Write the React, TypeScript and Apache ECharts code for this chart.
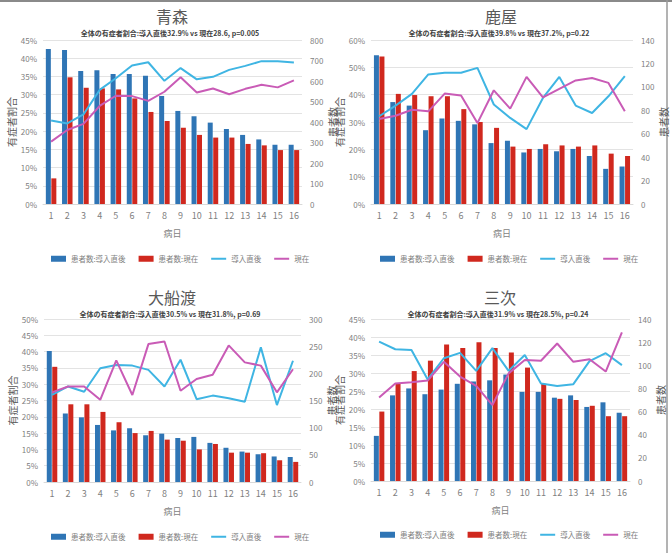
import React, { useEffect, useRef } from "react";
import * as echarts from "echarts";

// Hospital day (病日) categories shared by every panel
const days = ["1", "2", "3", "4", "5", "6", "7", "8", "9", "10", "11", "12", "13", "14", "15", "16"];

// 青森
const aomoriCountInitial = [756, 751, 649, 652, 634, 634, 626, 527, 454, 428, 397, 366, 337, 315, 289, 289];
const aomoriCountNow = [125, 618, 567, 564, 559, 515, 449, 405, 372, 337, 324, 324, 293, 286, 263, 263];
const aomoriRateInitial = [22.9, 22.1, 24.6, 31.3, 34.5, 38.0, 38.9, 33.8, 37.3, 34.2, 34.9, 36.8, 37.9, 39.2, 39.2, 38.8];
const aomoriRateNow = [17.1, 20.3, 22.0, 26.9, 29.7, 29.6, 28.3, 30.8, 34.8, 30.6, 31.7, 30.1, 31.6, 32.7, 32.0, 33.9];

// 鹿屋
const kanoyaCountInitial = [127, 87, 84, 63, 73, 71, 68, 52, 54, 44, 47, 45, 47, 41, 30, 32];
const kanoyaCountNow = [126, 94, 93, 92, 92, 81, 70, 65, 49, 47, 51, 50, 49, 50, 43, 41];
const kanoyaRateInitial = [32.1, 36.0, 40.3, 47.4, 48.0, 48.0, 49.8, 36.4, 31.5, 27.4, 38.8, 46.5, 36.0, 33.3, 39.4, 46.8];
const kanoyaRateNow = [31.1, 32.3, 34.5, 33.9, 40.4, 39.7, 29.6, 41.6, 34.9, 46.5, 39.0, 42.1, 45.2, 46.1, 44.3, 33.9];

// 大船渡
const ofunatoCountInitial = [241, 126, 119, 105, 95, 99, 86, 89, 81, 83, 72, 63, 56, 51, 47, 46];
const ofunatoCountNow = [212, 143, 143, 129, 110, 90, 94, 78, 76, 60, 70, 54, 54, 53, 40, 37];
const ofunatoRateInitial = [26.7, 29.3, 27.7, 34.9, 35.9, 35.7, 34.4, 29.3, 37.5, 25.4, 26.5, 25.7, 24.6, 41.3, 23.6, 37.2];
const ofunatoRateNow = [27.5, 29.3, 29.3, 25.2, 37.3, 26.7, 42.3, 43.1, 28.0, 31.6, 32.9, 41.9, 36.7, 35.7, 27.5, 34.6];

// 三次
const miyoshiCountInitial = [39, 74, 80, 75, 79, 84, 86, 87, 92, 77, 77, 72, 74, 64, 68, 59];
const miyoshiCountNow = [60, 84, 95, 104, 118, 115, 120, 115, 111, 98, 84, 71, 70, 65, 56, 56];
const miyoshiRateInitial = [38.7, 36.6, 36.4, 28.2, 34.1, 35.6, 30.6, 36.9, 30.6, 35.0, 27.1, 26.4, 26.9, 33.3, 35.5, 32.2];
const miyoshiRateNow = [23.2, 27.1, 27.4, 27.9, 33.1, 29.0, 26.4, 21.1, 29.9, 33.6, 33.4, 38.2, 33.1, 33.8, 30.4, 41.3];

// Panel titles and summary lines
const panelTitles = ["青森", "鹿屋", "大船渡", "三次"];
const panelSubtitles = [
  "全体の有症者割合:導入直後32.9% vs 現在28.6, p=0.005",
  "全体の有症者割合:導入直後39.8% vs 現在37.2%, p=0.22",
  "全体の有症者割合:導入直後30.5% vs 現在31.8%, p=0.69",
  "全体の有症者割合:導入直後31.9% vs 現在28.5%, p=0.24",
];

// Axis ranges: [max, interval]
const rateAxes = [[45, 5], [60, 10], [50, 5], [45, 5]];
const countAxes = [[800, 100], [140, 20], [300, 50], [140, 20]];

const seriesNames = ["患者数:導入直後", "患者数:現在", "導入直後", "現在"];

const panelData = [
  [aomoriCountInitial, aomoriCountNow, aomoriRateInitial, aomoriRateNow],
  [kanoyaCountInitial, kanoyaCountNow, kanoyaRateInitial, kanoyaRateNow],
  [ofunatoCountInitial, ofunatoCountNow, ofunatoRateInitial, ofunatoRateNow],
  [miyoshiCountInitial, miyoshiCountNow, miyoshiRateInitial, miyoshiRateNow],
];

// Layout of each panel (pixels)
const layout = [
  { left: 43, top: 40, width: 259, height: 164, cx: 172, titleY: 16, subY: 33, legendX: 51, legendY: 255 },
  { left: 371, top: 40, width: 262, height: 164, cx: 501, titleY: 16, subY: 33, legendX: 380, legendY: 255 },
  { left: 44, top: 319, width: 257, height: 163, cx: 172, titleY: 297, subY: 314, legendX: 51, legendY: 533 },
  { left: 371, top: 319, width: 259, height: 162, cx: 500, titleY: 297, subY: 314, legendX: 380, legendY: 531 },
];

const FONT = '"Noto Sans CJK JP", "Noto Sans", sans-serif';
const BLUE = "#2f75b5";
const RED = "#d0281e";
const CYAN = "#3fb5e3";
const MAGENTA = "#c95bb6";
const LABEL = "#7f7f7f";
const DARK = "#595959";

// Thin horizontal stroke inside a full-height box, used as the legend mark of line series
const LINE_ICON = "path://M0,0 M0,2 L15,2 L15,4 L0,4 Z M15,6";

export default function App() {
  const ref = useRef<HTMLDivElement>(null);

  useEffect(() => {
    if (!ref.current) return;
    const chart = echarts.init(ref.current, undefined, { renderer: "svg" });

    const grid: any[] = [];
    const xAxis: any[] = [];
    const yAxis: any[] = [];
    const series: any[] = [];
    const legend: any[] = [];
    const graphic: any[] = [];

    layout.forEach((g, i) => {
      grid.push({ left: g.left, top: g.top, width: g.width, height: g.height, containLabel: false });
      xAxis.push({
        type: "category",
        gridIndex: i,
        data: days,
        name: "病日",
        nameLocation: "middle",
        nameGap: 25,
        nameTextStyle: { color: LABEL, fontSize: 9, fontFamily: FONT },
        axisLine: { lineStyle: { color: "#d9d9d9" } },
        axisTick: { show: false },
        axisLabel: { color: LABEL, fontSize: 9, fontFamily: FONT, margin: 7, interval: 0 },
      });
      const [rMax, rInt] = rateAxes[i];
      const [cMax, cInt] = countAxes[i];
      yAxis.push({
        type: "value",
        gridIndex: i,
        min: 0,
        max: rMax,
        interval: rInt,
        position: "left",
        name: "有症者割合",
        nameLocation: "middle",
        nameRotate: 90,
        nameGap: 24,
        nameTextStyle: { color: DARK, fontSize: 10, fontFamily: FONT },
        axisLine: { show: false },
        axisTick: { show: false },
        axisLabel: { color: LABEL, fontSize: 8, fontFamily: FONT, formatter: "{value}%", margin: 6 },
        splitLine: { lineStyle: { color: "#e3e3e3", width: 1 } },
      });
      yAxis.push({
        type: "value",
        gridIndex: i,
        min: 0,
        max: cMax,
        interval: cInt,
        position: "right",
        name: "患者数",
        nameLocation: "middle",
        nameRotate: 90,
        nameGap: 22,
        nameTextStyle: { color: DARK, fontSize: 10, fontFamily: FONT },
        axisLine: { show: false },
        axisTick: { show: false },
        axisLabel: { color: LABEL, fontSize: 8, fontFamily: FONT, margin: 8 },
        splitLine: { show: false },
      });

      const [cA, cB, rA, rB] = panelData[i];
      series.push(
        {
          name: seriesNames[0],
          type: "bar",
          xAxisIndex: i,
          yAxisIndex: 2 * i + 1,
          data: cA,
          barWidth: 5,
          barGap: "10%",
          itemStyle: { color: BLUE },
        },
        {
          name: seriesNames[1],
          type: "bar",
          xAxisIndex: i,
          yAxisIndex: 2 * i + 1,
          data: cB,
          barWidth: 5,
          barGap: "10%",
          itemStyle: { color: RED },
        },
        {
          name: seriesNames[2],
          type: "line",
          xAxisIndex: i,
          yAxisIndex: 2 * i,
          data: rA,
          symbol: "none",
          lineStyle: { color: CYAN, width: 2 },
          itemStyle: { color: CYAN },
          z: 3,
        },
        {
          name: seriesNames[3],
          type: "line",
          xAxisIndex: i,
          yAxisIndex: 2 * i,
          data: rB,
          symbol: "none",
          lineStyle: { color: MAGENTA, width: 2 },
          itemStyle: { color: MAGENTA },
          z: 3,
        }
      );

      legend.push({
        left: g.legendX,
        top: g.legendY,
        width: 300,
        padding: 0,
        itemWidth: 15,
        itemHeight: 6,
        itemGap: 13,
        textStyle: { color: LABEL, fontSize: 7.5, fontFamily: FONT },
        selectedMode: false,
        data: [
          { name: seriesNames[0], icon: "rect" },
          { name: seriesNames[1], icon: "rect" },
          { name: seriesNames[2], icon: LINE_ICON },
          { name: seriesNames[3], icon: LINE_ICON },
        ],
      });

      graphic.push(
        {
          type: "text",
          x: g.cx,
          y: g.titleY,
          style: {
            text: panelTitles[i],
            fill: DARK,
            font: `16px ${FONT}`,
            textAlign: "center",
            textVerticalAlign: "middle",
          },
        },
        {
          type: "text",
          x: g.cx - 2,
          y: g.subY,
          style: {
            text: panelSubtitles[i],
            fill: "#404040",
            font: `bold 7px ${FONT}`,
            textAlign: "center",
            textVerticalAlign: "middle",
          },
        }
      );
    });

    // Frame lines along the top and right edges
    graphic.push(
      { type: "line", shape: { x1: 0, y1: 1, x2: 672, y2: 1 }, style: { stroke: "#8a8a8a", lineWidth: 2 } },
      { type: "line", shape: { x1: 667, y1: 0, x2: 667, y2: 553 }, style: { stroke: "#9a9a9a", lineWidth: 1.5 } }
    );

    chart.setOption({
      animation: false,
      backgroundColor: "#ffffff",
      textStyle: { fontFamily: FONT },
      grid,
      xAxis,
      yAxis,
      series,
      legend,
      graphic,
    });

    return () => chart.dispose();
  }, []);

  return (
    <div
      ref={ref}
      style={{ position: "absolute", left: 0, top: 0, width: 672, height: 553 }}
    />
  );
}
